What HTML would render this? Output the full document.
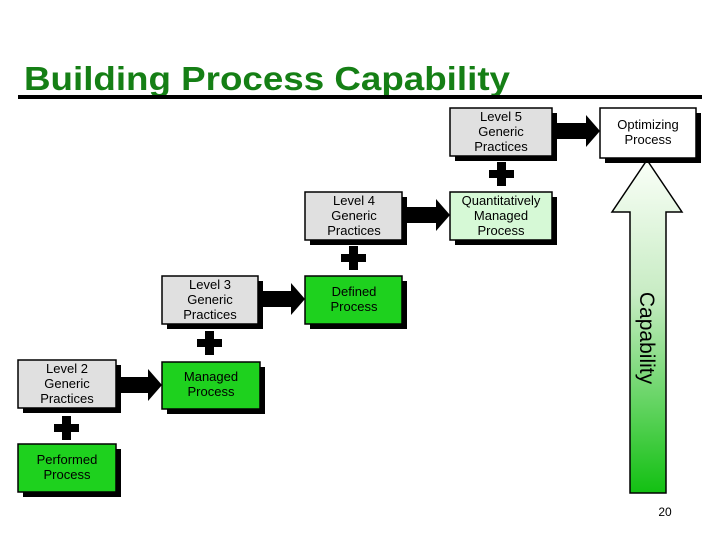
<!DOCTYPE html>
<html><head><style>body{margin:0;background:#fff}svg{display:block}</style></head><body>
<svg width="720" height="540" viewBox="0 0 720 540" xmlns="http://www.w3.org/2000/svg" font-family="Liberation Sans, Arial, sans-serif">
<defs>
<linearGradient id="g" x1="0" y1="0" x2="0" y2="1">
<stop offset="0" stop-color="#fafff8"/><stop offset="0.4" stop-color="#c8ecc4"/><stop offset="1" stop-color="#12c012"/>
</linearGradient>
</defs>
<text x="24" y="90" font-size="33" font-weight="bold" fill="#157f15" textLength="486" lengthAdjust="spacingAndGlyphs">Building Process Capability</text>
<rect x="18" y="95" width="684" height="4" fill="#000"/>

<polygon points="647,160 682,212 666,212 666,493 630,493 630,212 612,212" fill="url(#g)" stroke="#000" stroke-width="1.5"/>
<text transform="translate(640,338) rotate(90)" font-size="21" text-anchor="middle" fill="#000">Capability</text>

<g font-size="13" text-anchor="middle" fill="#000">
<g>
<rect x="23" y="365" width="98" height="48" fill="#000"/><rect x="18" y="360" width="98" height="48" fill="#e0e0e0" stroke="#000" stroke-width="1.5"/>
<text x="67" y="373">Level 2</text><text x="67" y="388">Generic</text><text x="67" y="403">Practices</text>
</g>
<g>
<rect x="23" y="449" width="98" height="48" fill="#000"/><rect x="18" y="444" width="98" height="48" fill="#1ed11e" stroke="#000" stroke-width="1.5"/>
<text x="67" y="464">Performed</text><text x="67" y="479">Process</text>
</g>
<g>
<rect x="167" y="367" width="98" height="47" fill="#000"/><rect x="162" y="362" width="98" height="47" fill="#1ed11e" stroke="#000" stroke-width="1.5"/>
<text x="211" y="381">Managed</text><text x="211" y="396">Process</text>
</g>
<g>
<rect x="167" y="281" width="96" height="48" fill="#000"/><rect x="162" y="276" width="96" height="48" fill="#e0e0e0" stroke="#000" stroke-width="1.5"/>
<text x="210" y="289">Level 3</text><text x="210" y="304">Generic</text><text x="210" y="319">Practices</text>
</g>
<g>
<rect x="310" y="281" width="97" height="48" fill="#000"/><rect x="305" y="276" width="97" height="48" fill="#1ed11e" stroke="#000" stroke-width="1.5"/>
<text x="354" y="296">Defined</text><text x="354" y="311">Process</text>
</g>
<g>
<rect x="310" y="197" width="97" height="48" fill="#000"/><rect x="305" y="192" width="97" height="48" fill="#e0e0e0" stroke="#000" stroke-width="1.5"/>
<text x="354" y="205">Level 4</text><text x="354" y="220">Generic</text><text x="354" y="235">Practices</text>
</g>
<g>
<rect x="455" y="197" width="102" height="48" fill="#000"/><rect x="450" y="192" width="102" height="48" fill="#d6f9d6" stroke="#000" stroke-width="1.5"/>
<text x="501" y="205">Quantitatively</text><text x="501" y="220">Managed</text><text x="501" y="235">Process</text>
</g>
<g>
<rect x="455" y="113" width="102" height="48" fill="#000"/><rect x="450" y="108" width="102" height="48" fill="#e0e0e0" stroke="#000" stroke-width="1.5"/>
<text x="501" y="121">Level 5</text><text x="501" y="136">Generic</text><text x="501" y="151">Practices</text>
</g>
<g>
<rect x="605" y="113" width="96" height="50" fill="#000"/><rect x="600" y="108" width="96" height="50" fill="#fff" stroke="#000" stroke-width="1.5"/>
<text x="648" y="129">Optimizing</text><text x="648" y="144">Process</text>
</g>
</g>

<g fill="#000">
<polygon points="116,377 148,377 148,369 162,385 148,401 148,393 116,393"/>
<polygon points="258,291 291,291 291,283 305,299 291,315 291,307 258,307"/>
<polygon points="402,207 436,207 436,199 450,215 436,231 436,223 402,223"/>
<polygon points="552,123 586,123 586,115 600,131 586,147 586,139 552,139"/>
</g>
<g fill="#000">
<rect x="62" y="416" width="9" height="24"/><rect x="54" y="424" width="25" height="8"/>
<rect x="205" y="331" width="9" height="24"/><rect x="197" y="339" width="25" height="8"/>
<rect x="349" y="246" width="9" height="24"/><rect x="341" y="254" width="25" height="8"/>
<rect x="497" y="162" width="9" height="24"/><rect x="489" y="170" width="25" height="8"/>
</g>
<text x="665" y="516" font-size="12" text-anchor="middle">20</text>
</svg>
</body></html>
